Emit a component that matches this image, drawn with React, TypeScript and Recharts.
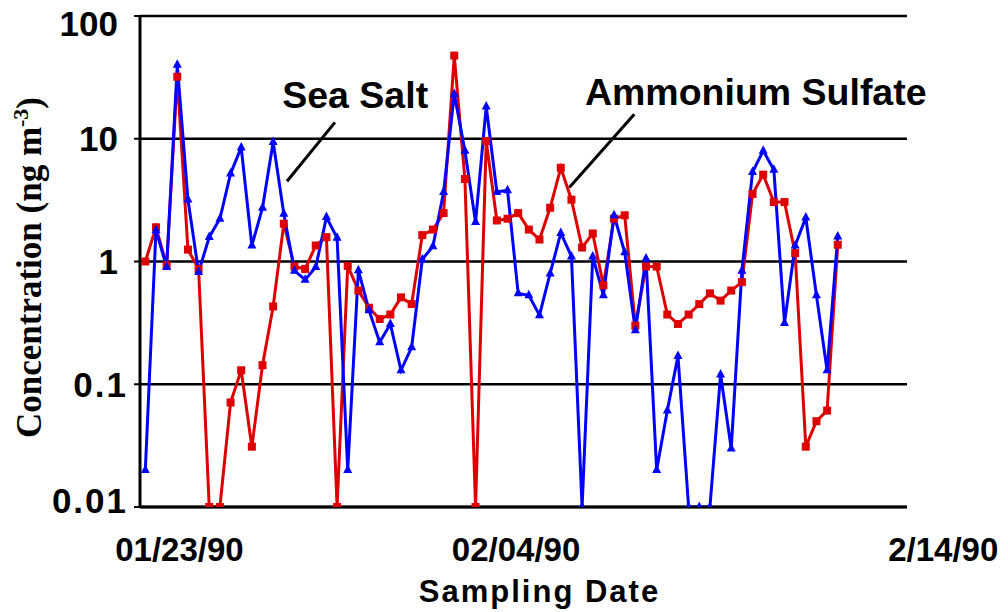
import {
  CartesianGrid,
  Line,
  LineChart,
  ReferenceDot,
  ReferenceLine,
  XAxis,
  YAxis,
} from "recharts";

// one value per sample (0.01 = below detection, drawn on the floor)
const seaSalt = [
  0.02, 1.8, 0.9, 40, 3.2, 0.82, 1.58, 2.23, 5.2, 8.5,
  1.35, 2.74, 9.4, 2.45, 0.84, 0.71, 0.9, 2.3, 1.56, 0.02,
  0.85, 0.4, 0.22, 0.31, 0.13, 0.2, 1.04, 1.33, 3.68, 23.2,
  8.0, 2.1, 18.3, 3.68, 3.8, 0.55, 0.53, 0.365, 0.8, 1.71,
  1.1, 0.01, 1.1, 0.53, 2.38, 1.19, 0.275, 1.06, 0.02, 0.061,
  0.17, 0.01, 0.01, 0.01, 0.12, 0.03, 0.84, 5.35, 8.0, 5.6,
  0.316, 1.35, 2.28, 0.53, 0.13, 1.6,
];

const ammoniumSulfate = [
  1.0, 1.9, 0.93, 32, 1.25, 0.87, 0.01, 0.01, 0.071, 0.13,
  0.031, 0.143, 0.43, 2.03, 0.91, 0.87, 1.35, 1.58, 0.01, 0.92,
  0.58, 0.42, 0.34, 0.37, 0.51, 0.45, 1.64, 1.82, 2.48, 47.6,
  4.7, 0.01, 9.6, 2.16, 2.23, 2.48, 1.82, 1.51, 2.74, 5.8,
  3.19, 1.3, 1.69, 0.64, 2.23, 2.38, 0.3, 0.91, 0.91, 0.37,
  0.31, 0.37, 0.45, 0.55, 0.48, 0.58, 0.68, 3.55, 5.1, 3.05,
  3.05, 1.17, 0.031, 0.05, 0.061, 1.37,
];

// date labels sit at these sample positions
const dateTicks = [3.2, 34.8, 74.9];
const dateLabels = ["01/23/90", "02/04/90", "2/14/90"];

const concTicks = [0.01, 0.1, 1, 10, 100];
const concLabels = ["0.01", "0.1", "1", "10", "100"];

const data = seaSalt.map((s, i) => ({
  sample: i,
  seaSalt: s,
  ammoniumSulfate: ammoniumSulfate[i],
}));

const SANS = "'Liberation Sans', Arial, sans-serif";
const RED = "#dd0000";
const BLUE = "#0000ff";

function TriangleDot(props: any) {
  const { cx, cy, index } = props;
  if (cx == null || cy == null) return null;
  return (
    <polygon
      key={`tri-${index}`}
      points={`${cx},${cy - 5.5} ${cx + 4.5},${cy + 3} ${cx - 4.5},${cy + 3}`}
      fill={BLUE}
    />
  );
}

function SquareDot(props: any) {
  const { cx, cy, index } = props;
  if (cx == null || cy == null) return null;
  return <rect key={`sq-${index}`} x={cx - 4} y={cy - 4} width={8} height={8} fill={RED} />;
}

function ConcTick(props: any) {
  const { x, y, payload } = props;
  const v = payload.value;
  const i = concTicks.indexOf(v);
  // the end labels are nudged inward like in the original figure
  const shift = v === 100 ? 7 : v === 0.01 ? -7 : 0;
  const small = v < 1;
  return (
    <text
      x={small ? x + 6 : x - 4}
      y={y + shift}
      dy="0.36em"
      textAnchor="end"
      fontFamily={SANS}
      fontWeight="bold"
      fontSize={35}
      letterSpacing={small ? 2 : 0}
      fill="#000"
    >
      {concLabels[i] ?? String(v)}
    </text>
  );
}

function ConcTitle(props: any) {
  const vb = props.viewBox;
  const cx = vb.x + 41;
  const cy = vb.y + vb.height / 2 + 6;
  return (
    <text
      x={cx}
      y={cy}
      transform={`rotate(-90 ${cx} ${cy})`}
      textAnchor="middle"
      fontFamily="'Liberation Serif', 'Times New Roman', serif"
      fontWeight="bold"
      fontSize={35}
      fill="#000"
    >
      Concentration (ng m
      <tspan dy={-13} fontSize={22}>-3</tspan>
      <tspan dy={13}>)</tspan>
    </text>
  );
}

export default function App() {
  return (
    <div style={{ position: "absolute", left: 0, top: 0, background: "#fff" }}>
      <LineChart
        width={1008}
        height={612}
        data={data}
        margin={{ top: 16, right: 101, bottom: 0, left: 0 }}
      >
        <CartesianGrid vertical={false} stroke="#000" strokeWidth={2.5} />
        <XAxis
          dataKey="sample"
          type="number"
          domain={[-0.5, 71.5]}
          ticks={dateTicks}
          interval={0}
          allowDataOverflow
          tickFormatter={(v: number) => dateLabels[dateTicks.indexOf(v)] ?? ""}
          tickLine={false}
          tickSize={0}
          tickMargin={31}
          height={105}
          axisLine={{ stroke: "#000", strokeWidth: 3 }}
          tick={{ fontSize: 33, fontWeight: "bold", fill: "#000", fontFamily: SANS }}
          label={{
            value: "Sampling Date",
            position: "insideBottom",
            offset: 10,
            dx: 16,
            fontSize: 31,
            fontWeight: "bold",
            fill: "#000",
            fontFamily: SANS,
            letterSpacing: 2,
          }}
        />
        <YAxis
          type="number"
          scale="log"
          domain={[0.01, 100]}
          ticks={concTicks}
          interval={0}
          allowDataOverflow
          width={140}
          tickSize={6}
          tickMargin={12}
          tickLine={{ stroke: "#000", strokeWidth: 2 }}
          axisLine={{ stroke: "#000", strokeWidth: 3 }}
          tick={<ConcTick />}
          label={{ content: <ConcTitle /> }}
        />
        <ReferenceLine
          segment={[
            { x: 17.8, y: 13.6 },
            { x: 13.3, y: 4.5 },
          ]}
          stroke="#000"
          strokeWidth={3}
        />
        <ReferenceLine
          segment={[
            { x: 45.9, y: 15.8 },
            { x: 39.8, y: 4.0 },
          ]}
          stroke="#000"
          strokeWidth={3}
        />
        <ReferenceDot
          x={19.7}
          y={22.7}
          r={0}
          fill="none"
          stroke="none"
          label={{
            value: "Sea Salt",
            position: "center",
            fontSize: 37.5,
            fontWeight: "bold",
            fill: "#000",
            fontFamily: SANS,
          }}
        />
        <ReferenceDot
          x={57.3}
          y={24.3}
          r={0}
          fill="none"
          stroke="none"
          label={{
            value: "Ammonium Sulfate",
            position: "center",
            fontSize: 37.5,
            fontWeight: "bold",
            fill: "#000",
            fontFamily: SANS,
          }}
        />
        <Line
          dataKey="ammoniumSulfate"
          stroke={RED}
          strokeWidth={3}
          dot={<SquareDot />}
          activeDot={false}
          isAnimationActive={false}
        />
        <Line
          dataKey="seaSalt"
          stroke={BLUE}
          strokeWidth={3}
          dot={<TriangleDot />}
          activeDot={false}
          isAnimationActive={false}
        />
      </LineChart>
    </div>
  );
}
